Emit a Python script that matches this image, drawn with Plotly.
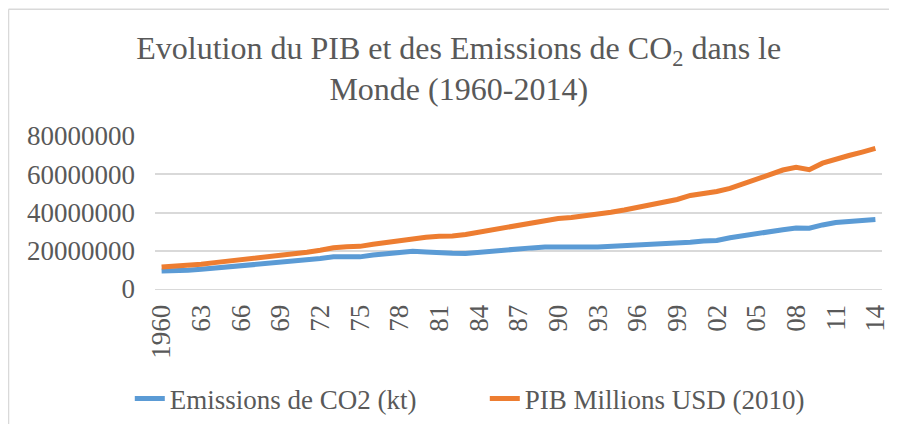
import plotly.graph_objects as go

years = list(range(1960, 2015))
co2_kt = [9.35e6, 9.45e6, 9.85e6, 10.3e6, 10.9e6, 11.3e6, 11.9e6, 12.3e6, 12.9e6, 13.7e6,
          14.7e6, 15.2e6, 15.9e6, 16.8e6, 16.8e6, 16.8e6, 17.8e6, 18.3e6, 18.6e6, 19.7e6,
          19.4e6, 18.9e6, 18.7e6, 18.6e6, 19.3e6, 19.9e6, 20.3e6, 20.8e6, 21.5e6, 21.9e6,
          22.1e6, 22.3e6, 22.0e6, 22.0e6, 22.3e6, 22.8e6, 23.3e6, 23.6e6, 23.8e6, 23.8e6,
          24.5e6, 25.1e6, 25.4e6, 26.8e6, 28.0e6, 29.0e6, 30.2e6, 31.0e6, 31.9e6, 31.8e6,
          33.5e6, 34.8e6, 35.3e6, 35.7e6, 36.3e6]
pib_musd = [11.5e6, 11.9e6, 12.4e6, 13.0e6, 13.8e6, 14.5e6, 15.3e6, 15.9e6, 16.8e6, 17.8e6,
            18.5e6, 19.2e6, 20.3e6, 21.6e6, 22.1e6, 22.3e6, 23.4e6, 24.4e6, 25.5e6, 26.5e6,
            27.0e6, 27.6e6, 27.7e6, 28.5e6, 29.7e6, 30.8e6, 31.8e6, 32.9e6, 34.4e6, 35.7e6,
            36.9e6, 37.4e6, 38.2e6, 38.8e6, 40.1e6, 41.3e6, 42.7e6, 44.2e6, 45.3e6, 46.8e6,
            48.9e6, 49.8e6, 51.0e6, 52.6e6, 54.9e6, 57.0e6, 59.5e6, 62.2e6, 63.6e6, 62.4e6,
            65.8e6, 68.0e6, 69.8e6, 71.6e6, 73.5e6]
tick_years = list(range(1960, 2015, 3))
tick_labels = ["1960", "63", "66", "69", "72", "75", "78", "81", "84", "87", "90",
               "93", "96", "99", "02", "05", "08", "11", "14"]
y_ticks = [0, 20000000, 40000000, 60000000, 80000000]

GRAY = "#595959"
BORDER = "#D9D9D9"
FONT = "Liberation Serif, Times New Roman, serif"

fig = go.Figure()
fig.add_trace(go.Scatter(x=years, y=co2_kt, mode="lines", name="Emissions de CO2 (kt)",
                         line=dict(color="#5B9BD5", width=5)))
fig.add_trace(go.Scatter(x=years, y=pib_musd, mode="lines", name="PIB Millions USD (2010)",
                         line=dict(color="#ED7D31", width=5)))

fig.update_layout(
    width=889, height=416,
    margin=dict(l=147, r=15, t=128, b=135, autoexpand=False),
    paper_bgcolor="white", plot_bgcolor="white",
    font=dict(family=FONT, size=27, color=GRAY),
    title=dict(text="Evolution du PIB et des Emissions de CO<sub>2</sub> dans le<br>Monde (1960-2014)",
               x=0.507, xanchor="center", xref="container",
               y=0.8777, yanchor="top", yref="container",
               font=dict(family=FONT, size=32, color=GRAY)),
    xaxis=dict(range=[1959.5, 2014.5], tickvals=tick_years, ticktext=tick_labels,
               tickangle=-90, showgrid=False, showline=True, linecolor=BORDER,
               linewidth=1, ticks="", ticklabelstandoff=4, zeroline=False,
               automargin=False,
               tickfont=dict(family=FONT, size=27, color=GRAY)),
    yaxis=dict(range=[0, 80000000], tickvals=y_ticks, tickformat="d",
               showgrid=True, gridcolor=BORDER, gridwidth=1.5, zeroline=False,
               ticks="", ticklabelstandoff=19, automargin=False,
               tickfont=dict(family=FONT, size=27, color=GRAY)),
    legend=dict(orientation="h", x=0.137, xanchor="left", xref="container",
                y=0.060, yanchor="middle", yref="container",
                font=dict(family=FONT, size=27, color=GRAY),
                entrywidth=310, entrywidthmode="pixels",
                traceorder="normal"),
    shapes=[
        dict(type="line", xref="paper", yref="paper", x0=-0.2015, x1=1.3,
             y0=1.828, y1=1.828, line=dict(color=BORDER, width=1.5), layer="above"),
        dict(type="line", xref="paper", yref="paper", x0=-0.2015, x1=-0.2015,
             y0=-1.3, y1=1.828, line=dict(color=BORDER, width=1.5), layer="above"),
    ],
)
fig.write_html("out.html")
